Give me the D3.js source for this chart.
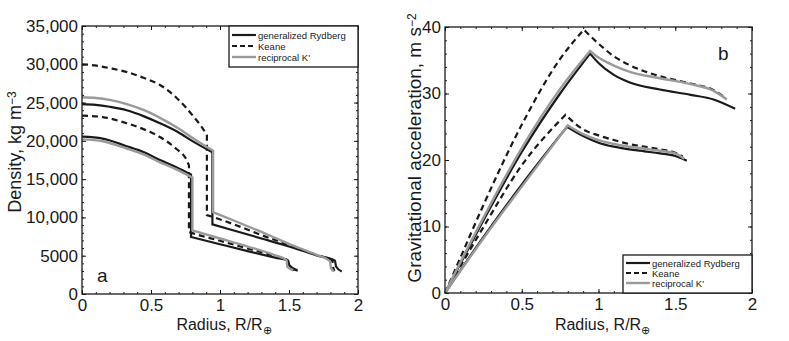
<!DOCTYPE html>
<html>
<head>
<meta charset="utf-8">
<script src="https://d3js.org/d3.v7.min.js"></script>
<style>
    body { margin: 0; background: #fff; }
    text { font-family: "Liberation Sans", Arial, Helvetica, sans-serif; fill: #1a1a1a; }
</style>
</head>
<body>
<svg id="fig" width="789" height="341"></svg>
<script>
// radius in R/R_earth, density in kg m^-3
let rhoBigRydberg = [[0, 24800], [0.1, 24700], [0.2, 24450], [0.324, 24000], [0.45, 23200], [0.565, 22300], [0.7, 21100], [0.807, 19900], [0.945, 18500],
    [0.945, 9100], [1.1, 8300], [1.3, 7250], [1.5, 6200], [1.7, 5050], [1.833, 4350], [1.841, 3600], [1.882, 2950]];
let rhoBigKeane = [[0, 30000], [0.094, 29850], [0.2, 29500], [0.324, 29000], [0.45, 28200], [0.565, 27300], [0.686, 25600], [0.807, 23200], [0.896, 21000], [0.905, 20700],
    [0.905, 10300], [0.95, 10050], [1.1, 9100], [1.3, 7700], [1.5, 6400], [1.7, 5100], [1.815, 4300], [1.82, 3500], [1.83, 3000]];
let rhoBigRecip = [[0, 25700], [0.1, 25600], [0.2, 25350], [0.324, 24800], [0.45, 24000], [0.565, 23000], [0.7, 21600], [0.807, 20300], [0.95, 18700],
    [0.95, 10700], [1.1, 9600], [1.3, 8100], [1.5, 6550], [1.7, 5100], [1.797, 4300], [1.804, 3400], [1.826, 2950]];

let rhoSmallRydberg = [[0, 20550], [0.15, 20300], [0.324, 19300], [0.45, 18500], [0.565, 17500], [0.68, 16600], [0.79, 15600],
    [0.79, 7450], [1.0, 6500], [1.2, 5600], [1.4, 4750], [1.495, 4350], [1.502, 3750], [1.563, 3050]];
let rhoSmallKeane = [[0, 23300], [0.15, 23100], [0.324, 22300], [0.45, 21500], [0.565, 20500], [0.68, 19000], [0.758, 17500], [0.775, 16800],
    [0.775, 8100], [0.8, 7950], [1.0, 6950], [1.2, 5950], [1.4, 4950], [1.49, 4400], [1.495, 3700], [1.54, 3100]];
let rhoSmallRecip = [[0, 20200], [0.15, 19950], [0.324, 19000], [0.45, 18200], [0.565, 17200], [0.68, 16300], [0.8, 15200],
    [0.8, 8300], [1.0, 7250], [1.2, 6200], [1.4, 5050], [1.483, 4400], [1.487, 3550], [1.531, 3100]];

// gravitational acceleration, m s^-2
let gBigRydberg = [[0, 0], [0.1, 4.4], [0.25, 10.9], [0.5, 21.2], [0.75, 30.0], [0.945, 36.0], [1.0, 34.6], [1.1, 32.8], [1.2, 31.7], [1.4, 30.6], [1.6, 29.8], [1.75, 29.1], [1.89, 27.7]];
let gBigKeane = [[0, 0], [0.1, 5.3], [0.25, 13.2], [0.5, 25.3], [0.75, 35.2], [0.905, 39.6], [1.0, 37.5], [1.1, 35.6], [1.2, 34.3], [1.4, 32.6], [1.6, 31.5], [1.75, 30.5], [1.83, 29.3]];
let gBigRecip = [[0, 0], [0.1, 4.6], [0.25, 11.3], [0.5, 21.8], [0.75, 30.7], [0.945, 36.4], [1.0, 35.4], [1.1, 34.2], [1.2, 33.3], [1.4, 32.3], [1.6, 31.4], [1.75, 30.4], [1.836, 29.1]];

let gSmallRydberg = [[0, 0], [0.25, 8.4], [0.5, 16.3], [0.795, 25.0], [0.9, 23.6], [1.0, 22.6], [1.1, 22.0], [1.2, 21.6], [1.3, 21.3], [1.4, 21.0], [1.5, 20.6], [1.575, 19.9]];
let gSmallKeane = [[0, 0], [0.25, 9.9], [0.5, 19.2], [0.785, 26.8], [0.9, 24.6], [1.0, 23.7], [1.1, 23.0], [1.2, 22.4], [1.3, 22.0], [1.4, 21.6], [1.5, 21.1], [1.55, 20.5]];
let gSmallRecip = [[0, 0], [0.25, 8.2], [0.5, 16.0], [0.8, 25.2], [0.9, 23.9], [1.0, 23.0], [1.1, 22.4], [1.2, 22.0], [1.3, 21.7], [1.4, 21.4], [1.5, 21.0], [1.557, 20.2]];

let legendNames = ["generalized Rydberg", "Keane", "reciprocal K'"];
let xTicks = [0, 0.5, 1, 1.5, 2];
let rhoTicks = [0, 5000, 10000, 15000, 20000, 25000, 30000, 35000];
let gTicks = [0, 10, 20, 30, 40];

let styles = [
    { color: "#1a1a1a", dash: null, width: 2.2 },
    { color: "#1a1a1a", dash: "6,4", width: 2.2 },
    { color: "#9a9a9a", dash: null, width: 2.4 }
];

let svg = d3.select("#fig");

function drawPanel(p) {
    let x = d3.scaleLinear().domain([0, 2]).range([p.left, p.right]);
    let y = d3.scaleLinear().domain(p.yDomain).range([p.bottom, p.top]);
    let g = svg.append("g");

    // minor ticks, inward, all four sides
    let minorX = d3.range(0, 2.0001, 0.1);
    let minorY = d3.range(p.yDomain[0], p.yDomain[1] + 1e-6, p.yMinor);
    g.append("g").attr("transform", `translate(0,${p.bottom})`)
        .call(d3.axisBottom(x).tickValues(minorX).tickSize(-2).tickFormat(""));
    g.append("g").attr("transform", `translate(0,${p.top})`)
        .call(d3.axisTop(x).tickValues(minorX).tickSize(-2).tickFormat(""));
    g.append("g").attr("transform", `translate(${p.left},0)`)
        .call(d3.axisLeft(y).tickValues(minorY).tickSize(-2).tickFormat(""));
    g.append("g").attr("transform", `translate(${p.right},0)`)
        .call(d3.axisRight(y).tickValues(minorY).tickSize(-2).tickFormat(""));

    // major ticks
    let bx = g.append("g").attr("transform", `translate(0,${p.bottom})`)
        .call(d3.axisBottom(x).tickValues(xTicks).tickSize(-4).tickPadding(5).tickFormat(d => d));
    g.append("g").attr("transform", `translate(0,${p.top})`)
        .call(d3.axisTop(x).tickValues(xTicks).tickSize(-4).tickFormat(""));
    let by = g.append("g").attr("transform", `translate(${p.left},0)`)
        .call(d3.axisLeft(y).tickValues(p.yTicks).tickSize(-4).tickPadding(4).tickFormat(p.yFormat));
    g.append("g").attr("transform", `translate(${p.right},0)`)
        .call(d3.axisRight(y).tickValues(p.yTicks).tickSize(-4).tickFormat(""));

    g.selectAll(".domain").remove();
    g.selectAll(".tick line").attr("stroke", "#1a1a1a").attr("stroke-width", 1);
    bx.selectAll("text").style("font-size", "17px").attr("fill", "#1a1a1a");
    by.selectAll("text").style("font-size", "17px").attr("fill", "#1a1a1a");

    // curves; jumps and peaks split the series into smooth pieces
    let line = d3.line().x(d => x(d[0])).y(d => y(d[1])).curve(d3.curveMonotoneX);
    function pathOf(data) {
        let pieces = [[data[0]]];
        for (let i = 1; i < data.length; i++) {
            if (data[i][0] == data[i - 1][0]) pieces.push([]);
            pieces[pieces.length - 1].push(data[i]);
            let next = data[i + 1];
            if (next && next[0] != data[i][0] && data[i][1] > data[i - 1][1] && data[i][1] > next[1])
                pieces.push([data[i]]);
        }
        return pieces.map((pc, i) => {
            let s = pc.length > 1 ? line(pc) : `M${x(pc[0][0])},${y(pc[0][1])}`;
            return i == 0 ? s : s.replace(/^M/, "L");
        }).join("");
    }

    let curves = g.append("g");
    p.series.forEach(function (s) {
        let st = styles[s.style];
        curves.append("path")
            .attr("d", pathOf(s.data))
            .attr("fill", "none")
            .attr("stroke", st.color)
            .attr("stroke-width", st.width)
            .attr("stroke-dasharray", st.dash)
            .attr("stroke-linejoin", "miter");
    });

    // axes box
    g.append("rect")
        .attr("x", p.left).attr("y", p.top)
        .attr("width", p.right - p.left).attr("height", p.bottom - p.top)
        .attr("fill", "none").attr("stroke", "#1a1a1a").attr("stroke-width", 1.3);

    // legend
    let lg = g.append("g");
    lg.append("rect")
        .attr("x", p.legend.x).attr("y", p.legend.y)
        .attr("width", p.legend.w).attr("height", p.legend.h)
        .attr("fill", "#fff").attr("stroke", "#1a1a1a").attr("stroke-width", 1.3);
    legendNames.forEach(function (name, i) {
        let st = styles[i];
        let yy = p.legend.y + p.legend.first + i * p.legend.step;
        lg.append("line")
            .attr("x1", p.legend.x + 3).attr("x2", p.legend.x + 27)
            .attr("y1", yy).attr("y2", yy)
            .attr("stroke", st.color).attr("stroke-width", st.width)
            .attr("stroke-dasharray", st.dash ? "5,3" : null);
        lg.append("text")
            .attr("x", p.legend.x + 29).attr("y", yy + 3.5)
            .style("font-size", "9.5px")
            .text(name);
    });

    // panel letter
    g.append("text")
        .attr("x", p.letter.x).attr("y", p.letter.y)
        .style("font-size", "19px")
        .text(p.letter.t);

    // x label
    let xl = g.append("text")
        .attr("x", (p.left + p.right) / 2 + 4).attr("y", 330)
        .attr("text-anchor", "middle")
        .style("font-size", "16px");
    xl.append("tspan").text("Radius, R/R");
    xl.append("tspan").attr("dy", "0.35em").style("font-size", "11px").text("⊕");

    // y label
    let yl = g.append("text")
        .attr("transform", `translate(${p.yLabel.x},${p.yLabel.y}) rotate(-90)`)
        .attr("text-anchor", "middle")
        .style("font-size", p.yLabel.size + "px");
    yl.append("tspan").text(p.yLabel.t);
    yl.append("tspan").attr("dy", "-0.45em").style("font-size", "12px").text(p.yLabel.sup);
}

drawPanel({
    left: 82, right: 358, top: 26, bottom: 294,
    yDomain: [0, 35000], yTicks: rhoTicks, yMinor: 1000,
    yFormat: d => d >= 10000 ? d3.format(",")(d) : d,
    series: [
        { data: rhoBigRydberg, style: 0 }, { data: rhoSmallRydberg, style: 0 },
        { data: rhoBigKeane, style: 1 }, { data: rhoSmallKeane, style: 1 },
        { data: rhoBigRecip, style: 2 }, { data: rhoSmallRecip, style: 2 }
    ],
    legend: { x: 229, y: 26, w: 129, h: 41, first: 9, step: 11 },
    letter: { x: 97, y: 282, t: "a" },
    yLabel: { x: 21, y: 152, t: "Density, kg m", sup: "−3", size: 18 }
});

drawPanel({
    left: 445, right: 752, top: 27, bottom: 293,
    yDomain: [0, 40], yTicks: gTicks, yMinor: 2,
    yFormat: d => d,
    series: [
        { data: gBigRydberg, style: 0 }, { data: gSmallRydberg, style: 0 },
        { data: gBigKeane, style: 1 }, { data: gSmallKeane, style: 1 },
        { data: gBigRecip, style: 2 }, { data: gSmallRecip, style: 2 }
    ],
    legend: { x: 623, y: 255, w: 129, h: 38, first: 8, step: 10 },
    letter: { x: 718, y: 60, t: "b" },
    yLabel: { x: 421, y: 148, t: "Gravitational acceleration, m s", sup: "−2", size: 19 }
});
</script>
</body>
</html>
